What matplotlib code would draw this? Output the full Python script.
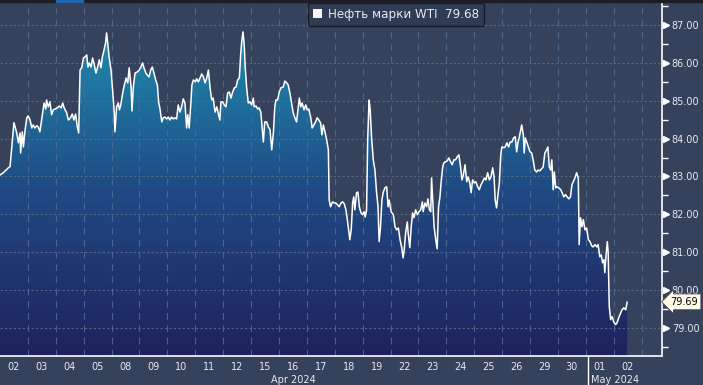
import numpy as np
import matplotlib
matplotlib.use('Agg')
import matplotlib.pyplot as plt
import matplotlib.transforms as mtransforms
from matplotlib.colors import LinearSegmentedColormap
from matplotlib.patches import Rectangle, Patch
from matplotlib.lines import Line2D

C_BG = '#36425c'; C_TEXT = '#e8e8ef'; C_HGRID = '#5c6b88'; C_VGRID = '#4f6a93'

# trading days shown on the x axis (Apr 2024 .. May 2024)
day_labels = ['02', '03', '04', '05', '08', '09', '10', '11', '12', '15', '16', '17',
              '18', '19', '22', '23', '24', '25', '26', '29', '30', '01', '02']
month_labels = ['Apr 2024', 'May 2024']
y_levels = [79, 80, 81, 82, 83, 84, 85, 86, 87]
last_price = '79.69'
legend_label = 'Нефть марки WTI  79.68'

# intraday position in trading days (0 = start of 02 Apr)
t = [0.00, 0.12, 0.30, 0.36, 0.42, 0.50, 0.60, 0.66, 0.72, 0.74, 0.80, 0.84, 0.90, 0.96,
     1.01, 1.08, 1.14, 1.19, 1.25, 1.32, 1.37, 1.43, 1.49, 1.58, 1.64, 1.67, 1.73, 1.79,
     1.85, 1.91, 1.97, 2.05, 2.13, 2.19, 2.25, 2.30, 2.39, 2.45, 2.53, 2.59, 2.65, 2.71,
     2.77, 2.82, 2.87, 2.93, 2.99, 3.05, 3.11, 3.15, 3.20, 3.26, 3.32, 3.38, 3.44, 3.50,
     3.56, 3.62, 3.67, 3.73, 3.79, 3.82, 3.86, 3.91, 3.98, 4.04, 4.09, 4.12, 4.18, 4.24,
     4.28, 4.33, 4.40, 4.44, 4.52, 4.58, 4.63, 4.70, 4.73, 4.78, 4.84, 4.92, 4.99, 5.05,
     5.11, 5.16, 5.23, 5.28, 5.34, 5.40, 5.46, 5.52, 5.58, 5.64, 5.69, 5.73, 5.80, 5.85,
     5.91, 5.97, 6.03, 6.09, 6.15, 6.21, 6.27, 6.33, 6.39, 6.45, 6.51, 6.57, 6.63, 6.69,
     6.73, 6.78, 6.83, 6.88, 6.93, 7.00, 7.05, 7.11, 7.17, 7.23, 7.29, 7.35, 7.41, 7.47,
     7.53, 7.59, 7.64, 7.71, 7.77, 7.82, 7.88, 7.92, 7.98, 8.04, 8.10, 8.16, 8.22, 8.28,
     8.34, 8.40, 8.46, 8.52, 8.58, 8.63, 8.67, 8.71, 8.75, 8.79, 8.84, 8.90, 8.96, 9.02,
     9.08, 9.11, 9.18, 9.24, 9.29, 9.35, 9.44, 9.49, 9.56, 9.62, 9.68, 9.74, 9.80, 9.85,
     9.89, 9.95, 10.01, 10.07, 10.15, 10.21, 10.28, 10.33, 10.39, 10.45, 10.51, 10.57,
     10.63, 10.69, 10.73, 10.78, 10.83, 10.90, 10.96, 11.01, 11.07, 11.14, 11.19, 11.25,
     11.31, 11.37, 11.43, 11.49, 11.54, 11.59, 11.65, 11.71, 11.77, 11.80, 11.85, 11.92,
     11.98, 12.04, 12.10, 12.16, 12.22, 12.28, 12.34, 12.40, 12.45, 12.51, 12.54, 12.59,
     12.64, 12.68, 12.72, 12.78, 12.83, 12.88, 12.94, 13.00, 13.05, 13.09, 13.14, 13.18,
     13.23, 13.27, 13.32, 13.38, 13.44, 13.50, 13.55, 13.59, 13.64, 13.69, 13.74, 13.80,
     13.86, 13.91, 13.95, 14.02, 14.10, 14.16, 14.22, 14.28, 14.34, 14.40, 14.45, 14.49,
     14.54, 14.60, 14.63, 14.69, 14.74, 14.79, 14.84, 14.90, 14.96, 15.02, 15.08, 15.14,
     15.17, 15.23, 15.29, 15.34, 15.39, 15.44, 15.47, 15.51, 15.56, 15.62, 15.67, 15.72,
     15.77, 15.82, 15.87, 15.91, 15.97, 16.03, 16.09, 16.15, 16.21, 16.27, 16.33, 16.39,
     16.45, 16.51, 16.56, 16.61, 16.67, 16.73, 16.78, 16.84, 16.89, 16.94, 17.00, 17.06,
     17.12, 17.18, 17.24, 17.30, 17.36, 17.42, 17.48, 17.54, 17.60, 17.66, 17.71, 17.75,
     17.80, 17.85, 17.90, 17.95, 17.99, 18.05, 18.11, 18.17, 18.23, 18.29, 18.35, 18.41,
     18.47, 18.52, 18.57, 18.61, 18.70, 18.76, 18.79, 18.83, 18.88, 18.94, 19.00, 19.06,
     19.11, 19.17, 19.24, 19.29, 19.35, 19.41, 19.47, 19.53, 19.59, 19.64, 19.69, 19.74,
     19.78, 19.83, 19.87, 19.92, 19.97, 20.03, 20.10, 20.15, 20.21, 20.27, 20.33, 20.39,
     20.45, 20.50, 20.55, 20.61, 20.67, 20.73, 20.76, 20.81, 20.86, 20.91, 20.97, 21.03,
     21.09, 21.15, 21.21, 21.26, 21.33, 21.39, 21.44, 21.50, 21.55, 21.60, 21.65, 21.68,
     21.72, 21.77, 21.80, 21.84, 21.89, 21.94, 22.01, 22.07, 22.12, 22.18, 22.25, 22.30,
     22.36, 22.43, 22.48]

price = [83.04, 83.10, 83.23, 83.26, 83.76, 84.42, 84.15, 83.89, 84.15, 83.62, 84.18, 83.78,
         84.23, 84.55, 84.60, 84.49, 84.28, 84.36, 84.28, 84.34, 84.31, 84.18, 84.49, 84.94,
         84.78, 85.02, 84.84, 84.97, 84.63, 84.76, 84.78, 84.81, 84.86, 84.81, 84.94, 84.81,
         84.68, 84.49, 84.55, 84.65, 84.49, 84.65, 84.31, 84.15, 85.81, 85.87, 86.13, 86.16,
         86.21, 85.89, 86.00, 85.89, 86.13, 85.95, 85.73, 85.89, 86.08, 85.87, 86.16, 86.34,
         86.55, 86.79, 86.53, 86.16, 85.81, 85.23, 84.76, 84.18, 84.84, 84.94, 84.76, 84.89,
         85.21, 85.36, 85.60, 85.47, 85.87, 85.36, 84.73, 85.36, 85.73, 85.76, 85.81, 85.89,
         86.00, 85.87, 85.73, 85.68, 85.63, 85.81, 85.89, 85.73, 85.55, 85.42, 84.94, 84.81,
         84.44, 84.55, 84.57, 84.52, 84.57, 84.49, 84.57, 84.52, 84.55, 84.52, 84.89, 84.70,
         84.84, 85.05, 84.94, 84.28, 84.63, 84.28, 84.81, 85.42, 85.55, 85.50, 85.58, 85.50,
         85.60, 85.71, 85.63, 85.47, 85.60, 85.81, 85.34, 85.02, 85.07, 84.70, 84.84, 84.68,
         84.49, 84.97, 84.97, 84.89, 84.84, 85.21, 85.23, 85.07, 85.23, 85.34, 85.36, 85.55,
         85.60, 86.26, 86.60, 86.82, 86.53, 85.89, 85.36, 84.94, 84.97, 84.89, 85.07, 84.84,
         84.86, 84.78, 84.81, 84.70, 83.91, 84.44, 84.44, 84.31, 84.23, 83.70, 84.15, 84.84,
         85.02, 85.02, 85.23, 85.34, 85.36, 85.52, 85.47, 85.42, 85.21, 84.94, 84.68, 84.55,
         84.44, 84.81, 85.07, 84.84, 84.94, 84.76, 84.89, 84.76, 84.78, 84.55, 84.28, 84.36,
         84.44, 84.55, 84.49, 84.42, 84.10, 84.36, 84.18, 83.97, 83.70, 82.38, 82.20, 82.33,
         82.30, 82.30, 82.25, 82.20, 82.30, 82.33, 82.28, 82.12, 81.86, 81.51, 81.33, 81.59,
         82.30, 82.46, 82.12, 82.57, 82.59, 82.20, 82.04, 81.99, 82.07, 81.93, 82.12, 83.97,
         85.02, 84.76, 84.02, 83.44, 83.17, 82.57, 82.20, 81.28, 81.67, 82.38, 82.59, 82.70,
         82.73, 82.20, 82.38, 82.07, 81.99, 81.67, 81.59, 81.64, 81.33, 81.12, 80.85, 81.06,
         81.51, 81.80, 81.51, 81.12, 81.67, 82.04, 81.91, 82.12, 81.99, 82.07, 82.12, 82.33,
         82.07, 82.30, 82.20, 82.41, 82.12, 82.07, 82.96, 82.38, 81.67, 81.33, 81.09, 82.20,
         82.46, 82.91, 83.25, 83.36, 83.39, 83.41, 83.49, 83.39, 83.31, 83.44, 83.44, 83.52,
         83.57, 83.25, 82.91, 83.04, 83.31, 82.86, 82.99, 82.83, 82.57, 82.91, 82.83, 82.86,
         82.73, 82.65, 82.78, 82.86, 82.96, 82.91, 83.10, 82.91, 82.99, 83.23, 82.99, 82.38,
         82.17, 82.52, 82.83, 83.57, 83.78, 83.76, 83.78, 83.89, 83.78, 83.91, 83.91, 84.02,
         84.05, 83.65, 83.91, 84.02, 84.36, 84.10, 83.62, 84.02, 83.91, 83.78, 83.65, 83.62,
         83.44, 83.17, 83.12, 83.17, 83.15, 83.20, 83.25, 83.62, 83.70, 83.78, 83.25, 83.17,
         83.44, 82.65, 83.12, 82.70, 82.73, 82.70, 82.65, 82.57, 82.46, 82.52, 82.46, 82.41,
         82.46, 82.78, 82.86, 82.96, 83.10, 82.96, 81.20, 81.91, 81.67, 81.86, 81.59, 81.64,
         81.33, 81.28, 81.17, 81.14, 81.20, 81.14, 81.20, 80.88, 80.93, 80.72, 80.80, 80.46,
         80.88, 81.28, 80.99, 79.56, 79.22, 79.30, 79.14, 79.09, 79.14, 79.27, 79.40, 79.48,
         79.53, 79.48, 79.68]

YMIN, YMAX = 78.26, 87.66
XMAX = 23.73

fig = plt.figure(figsize=(7.03, 3.85), dpi=100)
fig.patch.set_facecolor(C_BG)
ax = fig.add_axes([0, 29 / 385, 662 / 703, 356 / 385])
ax.set_facecolor(C_BG)

# gradient area under the line
cmap = LinearSegmentedColormap.from_list('wti', ['#20215c', '#1f4a84', '#1e8fb1'])
grad = np.linspace(0, 1, 256).reshape(-1, 1)
im = ax.imshow(grad, extent=[0, t[-1], YMIN, 87.0], origin='lower', aspect='auto',
               cmap=cmap, zorder=1, interpolation='bilinear')
area = ax.fill_between(t, price, YMIN, facecolor='none', edgecolor='none')
im.set_clip_path(area.get_paths()[0], transform=ax.transData)

# grid
for lv in y_levels:
    ax.axhline(lv, color=C_HGRID, lw=0.8, ls=(0, (2, 2)), zorder=2, alpha=0.9)
for d in range(1, len(day_labels) + 1):
    ax.axvline(d, color=C_VGRID, lw=0.8, ls=(0, (6, 5)), zorder=2, alpha=0.9)

ax.plot(t, price, color='white', lw=1.1, zorder=3)

ax.set_xlim(0, XMAX); ax.set_ylim(YMIN, YMAX)
for s in ['top', 'left']:
    ax.spines[s].set_visible(False)
for s in ['right', 'bottom']:
    ax.spines[s].set_color('white'); ax.spines[s].set_linewidth(1.2)

# right axis
ax.yaxis.tick_right()
ax.set_yticks(y_levels)
ax.set_yticklabels([f'{v:.2f}' for v in y_levels])
ax.set_yticks(np.arange(78.5, 87.6, 1.0), minor=True)
ax.tick_params(axis='y', which='major', length=0, pad=7, labelsize=7, labelcolor=C_TEXT)
ax.tick_params(axis='y', which='minor', length=4, width=1, color='white', direction='out')
tri = mtransforms.blended_transform_factory(ax.transAxes, ax.transData) + \
    mtransforms.ScaledTranslation(2.6 / 72, 0, fig.dpi_scale_trans)
ax.plot([1] * len(y_levels), y_levels, ls='none', marker='>', ms=5, color='white',
        mec='white', transform=tri, clip_on=False, zorder=5)

# bottom axis
ax.set_xticks(np.arange(len(day_labels)) + 0.5)
ax.set_xticklabels(day_labels)
ax.tick_params(axis='x', length=0, pad=4, labelsize=7, labelcolor=C_TEXT)
ax.annotate(month_labels[0], xy=(10.5, 0), xycoords=('data', 'axes fraction'),
            xytext=(0, -17), textcoords='offset points', ha='center', va='center',
            fontsize=7, color=C_TEXT)
ax.annotate(month_labels[1], xy=(21, 0), xycoords=('data', 'axes fraction'),
            xytext=(3.5, -17), textcoords='offset points', ha='left', va='center',
            fontsize=7, color=C_TEXT)
fig.add_artist(Line2D([588 / 703] * 2, [0, 29 / 385], transform=fig.transFigure,
                      color='white', lw=1.0))

# last price tag
ax.annotate(last_price, xy=(1, float(last_price)), xycoords=('axes fraction', 'data'),
            xytext=(6, 0), textcoords='offset points', ha='left', va='center',
            fontsize=7, color='black', annotation_clip=False,
            bbox=dict(boxstyle='larrow,pad=0.3', fc='#fffbea', ec='#444444', lw=0.6))

# legend
leg = ax.legend(handles=[Patch(facecolor='#fff3ef', edgecolor='none')], labels=[legend_label],
                loc='upper center', bbox_to_anchor=(396 / 662, 1 - 3 / 356), frameon=True,
                fancybox=True, facecolor='#303c55', edgecolor='#151b28', framealpha=1,
                fontsize=8.6, labelcolor=C_TEXT, handlelength=0.8, handleheight=0.8,
                handletextpad=0.5, borderpad=0.4, borderaxespad=0)
leg.set_zorder(6)

# top bar
fig.add_artist(Rectangle((0, 1 - 2 / 385), 1, 2 / 385, transform=fig.transFigure,
                         color='#1b1d24', zorder=10))
fig.add_artist(Rectangle((56 / 703, 1 - 2 / 385), 27 / 703, 2 / 385, transform=fig.transFigure,
                         color='#2065b0', zorder=11))

fig.savefig('out.png', dpi=100, facecolor=C_BG)
